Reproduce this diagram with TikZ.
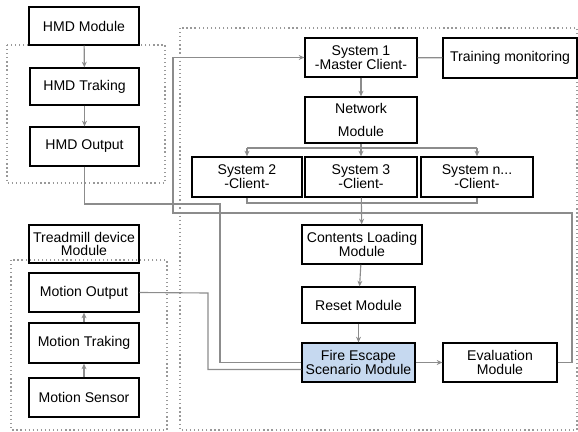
\documentclass[tikz,border=0pt]{standalone}
\usepackage{fontspec}
\setmainfont{Liberation Sans}
\usetikzlibrary{arrows.meta}

\definecolor{lineg}{gray}{0.55}
\definecolor{dotg}{gray}{0.6}
\definecolor{fireblue}{RGB}{198,217,240}

\begin{document}
\begin{tikzpicture}[x=0.025cm, y=-0.025cm,
        blk/.style 2 args={draw, line width=0.9pt, inner sep=0pt, align=center,
            font=\fontsize{10}{9.8}\selectfont,
            minimum width=#1*0.025cm, minimum height=#2*0.025cm},
        link/.style={draw=lineg, line width=0.8pt},
        flow/.style={link, -{Stealth[length=4pt, width=3.5pt]}},
        group/.style={draw=dotg, dotted, line width=0.9pt}]
    \useasboundingbox (0,0) rectangle (578,432);

    % dotted groups
    \draw[group] (7,45) rectangle (165,183);
    \draw[group] (11,260) rectangle (167,430);
    \draw[group] (180,28) rectangle (577,430);

    % HMD column
    \node[blk={110}{38}] (hmdmod) at (84,26) {HMD Module};
    \node[blk={109}{37}] (hmdtrk) at (84.5,86.5) {HMD Traking};
    \node[blk={109}{39}] (hmdout) at (84.5,146.5) {HMD Output};

    % treadmill column
    \node[blk={110}{38}] (tread) at (84,244) {Treadmill device\\Module};
    \node[blk={110}{39}] (motout) at (84,292.5) {Motion Output};
    \node[blk={110}{40}] (mottrk) at (84,343) {Motion Traking};
    \node[blk={110}{39}] (motsen) at (84,397.5) {Motion Sensor};

    % systems
    \node[blk={112}{39}] (sys1) at (361,57.5) {System 1\\-Master Client-};
    \node[blk={134}{40}] (train) at (510,58) {Training monitoring};
    \node[blk={112}{46}, font=\fontsize{10}{16}\selectfont] (network) at (361,120) {Network\\Module};
    \node[blk={110}{40}] (sys2) at (247,177) {System 2\\-Client-};
    \node[blk={112}{40}] (sys3) at (361,177) {System 3\\-Client-};
    \node[blk={112}{40}] (sysn) at (477,177) {System n...\\-Client-};

    % modules
    \node[blk={120}{39}] (content) at (362,244.5) {Contents Loading\\Module};
    \node[blk={113}{36}] (reset) at (358.5,305) {Reset Module};
    \node[blk={113}{39}, fill=fireblue] (fire) at (358.5,362.5) {Fire Escape\\Scenario Module};
    \node[blk={114}{39}] (eval) at (500,362.5) {Evaluation\\Module};

    % bends
    \coordinate (fan) at (361,148);
    \coordinate (merge) at (361,203);
    \coordinate (hmdbend) at (220,204);
    \coordinate (motbend) at (208,293);
    \coordinate (backR) at (572,213);
    \coordinate (backL) at (173,213);

    % left chains
    \draw[flow] (hmdmod) -- (hmdtrk);
    \draw[flow] (hmdtrk) -- (hmdout);
    \draw[flow] (motsen) -- (mottrk);
    \draw[flow] (mottrk) -- (motout);

    % network
    \draw[link] (sys1) -- (train);
    \draw[flow] (sys1) -- (network);
    \draw[link] (network) -- (fan);
    \draw[link] (fan -| sys2) -- (fan -| sysn);
    \foreach \s in {sys2,sys3,sysn}
        \draw[flow] (fan -| \s) -- (\s.north);
    \draw[link] (sys2.south) |- (merge -| sysn) -- (sysn.south);

    % main flow
    \draw[flow] (sys3) -- (content);
    \draw[flow] (content) -- (reset);
    \draw[flow] (reset) -- (fire);
    \draw[flow] (fire) -- (eval);

    % inputs into scenario
    \draw[link] (hmdout.south) |- (hmdbend) |- (fire.west);
    \draw[link] (motout.east) -- (motbend) |- ([yshift=-5pt]fire.west);

    % feedback
    \draw[flow] (eval.east) -| (backR) -- (backL) |- (sys1.west);
\end{tikzpicture}
\end{document}
